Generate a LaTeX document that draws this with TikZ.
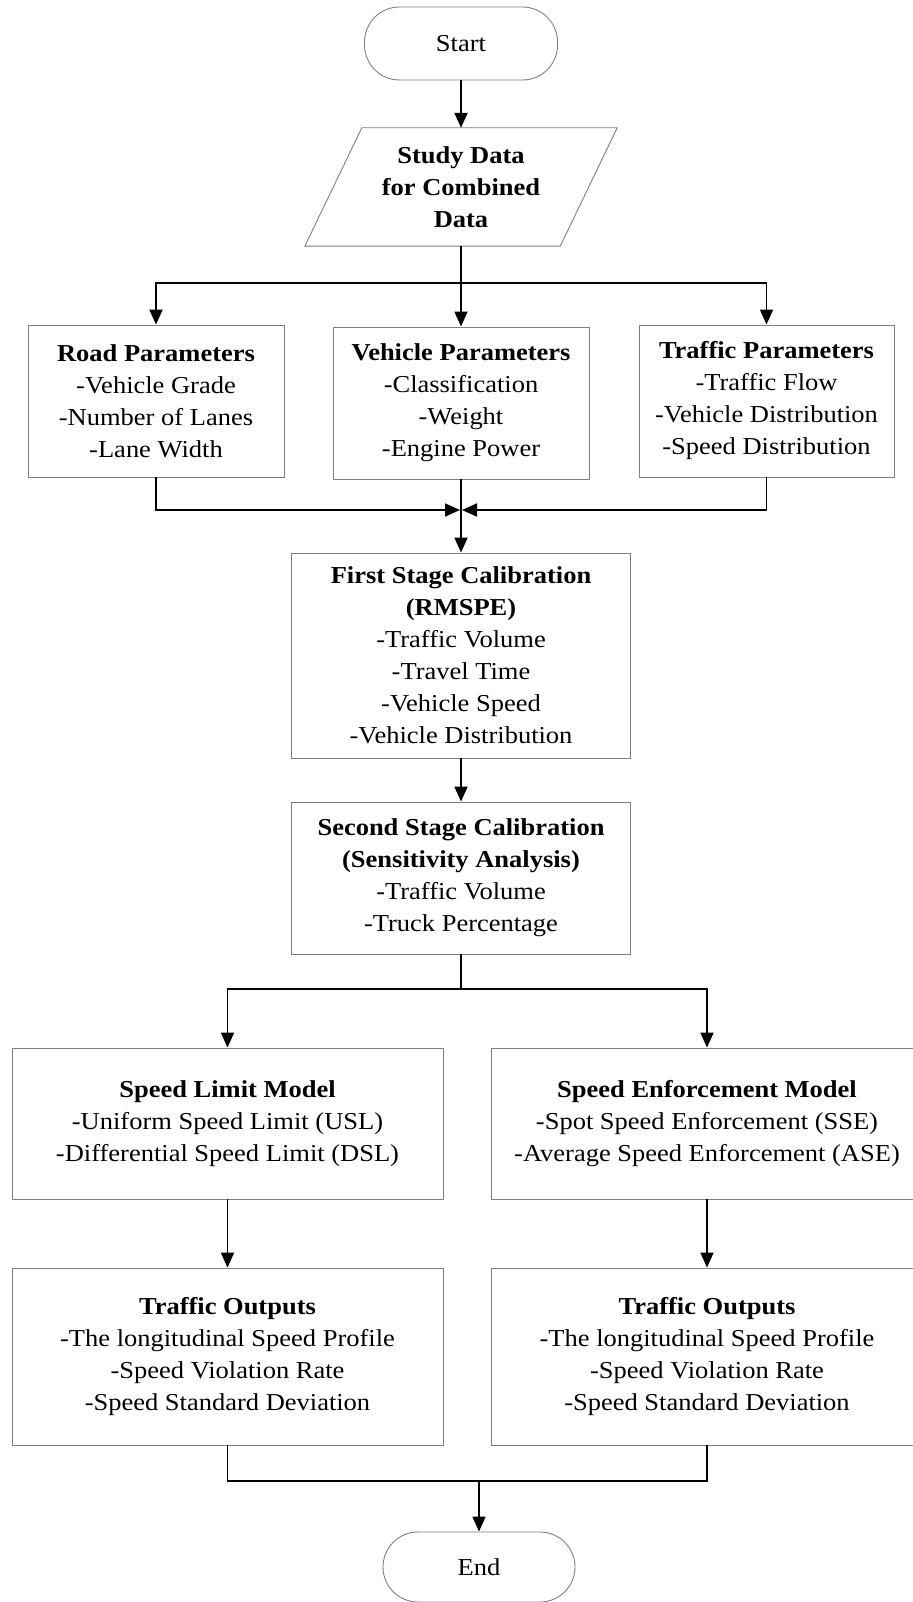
\documentclass[tikz,border=0pt]{standalone}
\usepackage{fontspec}
\setmainfont{Liberation Serif}[FakeStretch=1.09]
\usetikzlibrary{arrows.meta}
\begin{document}
\begin{tikzpicture}[x=1pt,y=-1pt,
  txt/.style={inner sep=0pt, align=center, font=\fontsize{24.3}{32}\selectfont},
  box/.style={txt, draw=black!50, line width=0.9pt},
  term/.style={box, rounded corners=35pt},
  conn/.style={line width=1.8pt, line cap=butt},
  arr/.style={conn, -{Triangle[width=13pt,length=15pt]}}]
\useasboundingbox (0,0) rectangle (912,1602);
% terminals
\node[term, minimum width=193pt, minimum height=73pt] (start) at (461,43.5) {Start};
\node[term, minimum width=192pt, minimum height=70pt] (end) at (479,1567) {End};
% data parallelogram
\node[txt, minimum width=255pt, minimum height=118pt] (data) at (461,187)
  {\textbf{Study Data}\\\textbf{for Combined}\\\textbf{Data}};
\draw[draw=black!50, line width=0.9pt]
  ([xshift=-28.5pt]data.south west) -- ([xshift=28.5pt]data.north west) --
  ([xshift=28.5pt]data.north east) -- ([xshift=-28.5pt]data.south east) -- cycle;
% parameter boxes
\node[box, minimum width=256pt, minimum height=152pt] (road) at (156,401)
  {\textbf{Road Parameters}\\-Vehicle Grade\\-Number of Lanes\\-Lane Width};
\node[box, minimum width=256pt, minimum height=152pt] (veh) at (461,403)
  {\textbf{Vehicle Parameters}\\-Classification\\-Weight\\-Engine Power};
\node[box, minimum width=255pt, minimum height=152pt] (traf) at (766.5,401)
  {\textbf{Traffic Parameters}\\-Traffic Flow\\-Vehicle Distribution\\-Speed Distribution};
% calibration
\node[box, minimum width=339pt, minimum height=205pt] (first) at (461,655.5)
  {\textbf{First Stage Calibration}\\\textbf{(RMSPE)}\\-Traffic Volume\\-Travel Time\\-Vehicle Speed\\-Vehicle Distribution};
\node[box, minimum width=339pt, minimum height=152pt] (second) at (461,878)
  {\textbf{Second Stage Calibration}\\\textbf{(Sensitivity Analysis)}\\-Traffic Volume\\-Truck Percentage};
% models
\node[box, minimum width=431pt, minimum height=151pt] (slm) at (227.5,1123.5)
  {\textbf{Speed Limit Model}\\-Uniform Speed Limit (USL)\\-Differential Speed Limit (DSL)};
\node[box, minimum width=431pt, minimum height=151pt] (sem) at (707,1123.5)
  {\textbf{Speed Enforcement Model}\\-Spot Speed Enforcement (SSE)\\-Average Speed Enforcement (ASE)};
% outputs
\node[box, minimum width=431pt, minimum height=177pt] (tol) at (227.5,1356.5)
  {\textbf{Traffic Outputs}\\-The longitudinal Speed Profile\\-Speed Violation Rate\\-Speed Standard Deviation};
\node[box, minimum width=431pt, minimum height=177pt] (tor) at (707,1356.5)
  {\textbf{Traffic Outputs}\\-The longitudinal Speed Profile\\-Speed Violation Rate\\-Speed Standard Deviation};
% connectors
\coordinate (split1) at (461,283);
\coordinate (merge) at (461,510);
\coordinate (split2) at (461,989);
\coordinate (join) at (479,1481);
\draw[arr] (start.south) -- (data.north);
\draw[arr] (data.south) -- (veh.north);
\draw[arr] (split1) -| (road.north);
\draw[arr] (split1) -| (traf.north);
\draw[arr] (road.south) |- ([xshift=-1pt]merge);
\draw[arr] (traf.south) |- ([xshift=1pt]merge);
\draw[arr] (veh.south) -- (first.north);
\draw[arr] (first.south) -- (second.north);
\draw[conn] (second.south) -- (split2);
\draw[arr] (split2) -| (slm.north);
\draw[arr] (split2) -| (sem.north);
\draw[arr] (slm.south) -- (tol.north);
\draw[arr] (sem.south) -- (tor.north);
\draw[conn] (tol.south) |- (join) -| (tor.south);
\draw[arr] (join) -- (end.north);
\end{tikzpicture}
\end{document}
